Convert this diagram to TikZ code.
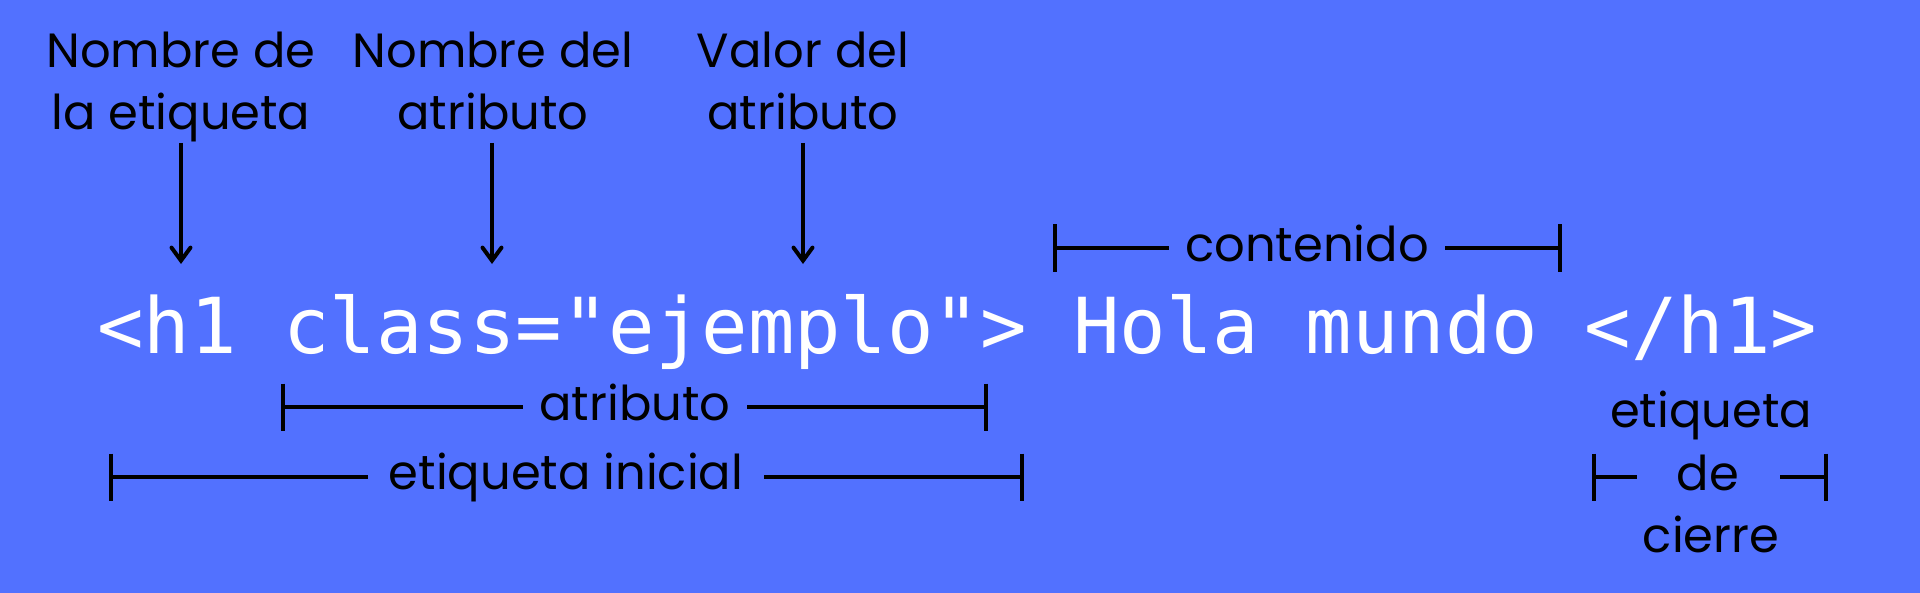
\documentclass[tikz,border=0pt]{standalone}
\usepackage{fontspec}
\setmainfont{Poppins}
\newfontfamily\codefont{DejaVu Sans Mono}
\usetikzlibrary{arrows.meta}
\definecolor{bgblue}{HTML}{5271FF}
\begin{document}
\begin{tikzpicture}[x=0.5pt,y=-0.5pt,
  lbl/.style={font=\fontsize{24}{31}\selectfont, text=black, inner sep=0pt, align=center},
  brlbl/.style={lbl, inner xsep=8pt},
  code/.style={font=\codefont\fontsize{38.6}{40}\selectfont, text=white, inner sep=0pt},
  ln/.style={line width=2pt, draw=black},
  arr/.style={ln, -{Straight Barb[length=6.5pt,width=9.5pt,line cap=round]}},
]
\fill[bgblue] (0,0) rectangle (1920,593);
\useasboundingbox (0,0) rectangle (1920,593);

% top labels
\node[lbl, anchor=north] (n1) at (181,32) {Nombre de\\la etiqueta};
\node[lbl, anchor=north] (n2) at (493,32) {Nombre del\\atributo};
\node[lbl, anchor=north] (n3) at (803,32) {Valor del\\atributo};

% arrows
\coordinate (a1s) at (181,143); \coordinate (a1e) at (181,264);
\coordinate (a2s) at (492,143); \coordinate (a2e) at (492,264);
\coordinate (a3s) at (803,143); \coordinate (a3e) at (803,264);
\draw[arr] (a1s) -- (a1e);
\draw[arr] (a2s) -- (a2e);
\draw[arr] (a3s) -- (a3e);

% code line
\node[code, anchor=base west] (code) at (97,353) {<h1 class="ejemplo"> Hola mundo </h1>};

% contenido bracket
\node[brlbl, anchor=base] (ct) at (1307,262) {contenido};
\coordinate (cL) at (1055,248); \coordinate (cR) at (1560,248);
\draw[ln] ([yshift=11.75pt]cL) -- ([yshift=-11.75pt]cL);
\draw[ln] ([yshift=11.75pt]cR) -- ([yshift=-11.75pt]cR);
\draw[ln] (cL) -- (cL -| ct.west);
\draw[ln] (cR) -- (cR -| ct.east);

% atributo bracket
\node[brlbl, anchor=base] (at) at (635,420) {atributo};
\coordinate (tL) at (283,407); \coordinate (tR) at (986,407);
\draw[ln] ([yshift=11.75pt]tL) -- ([yshift=-11.75pt]tL);
\draw[ln] ([yshift=11.75pt]tR) -- ([yshift=-11.75pt]tR);
\draw[ln] (tL) -- (tL -| at.west);
\draw[ln] (tR) -- (tR -| at.east);

% etiqueta inicial bracket
\node[brlbl, anchor=base, inner xsep=10pt] (ei) at (566,489) {etiqueta inicial};
\coordinate (eL) at (111,477); \coordinate (eR) at (1022,477);
\draw[ln] ([yshift=11.75pt]eL) -- ([yshift=-11.75pt]eL);
\draw[ln] ([yshift=11.75pt]eR) -- ([yshift=-11.75pt]eR);
\draw[ln] (eL) -- (eL -| ei.west);
\draw[ln] (eR) -- (eR -| ei.east);

% etiqueta de cierre bracket
\node[lbl, anchor=base] (ec1) at (1711,427) {etiqueta};
\node[brlbl, anchor=base, inner xsep=20pt] (ec2) at (1708,490) {de};
\node[lbl, anchor=base] (ec3) at (1711,552) {cierre};
\coordinate (xL) at (1594,477); \coordinate (xR) at (1826,477);
\draw[ln] ([yshift=11.75pt]xL) -- ([yshift=-11.75pt]xL);
\draw[ln] ([yshift=11.75pt]xR) -- ([yshift=-11.75pt]xR);
\draw[ln] (xL) -- (xL -| ec2.west);
\draw[ln] (xR) -- (xR -| ec2.east);
\end{tikzpicture}
\end{document}
